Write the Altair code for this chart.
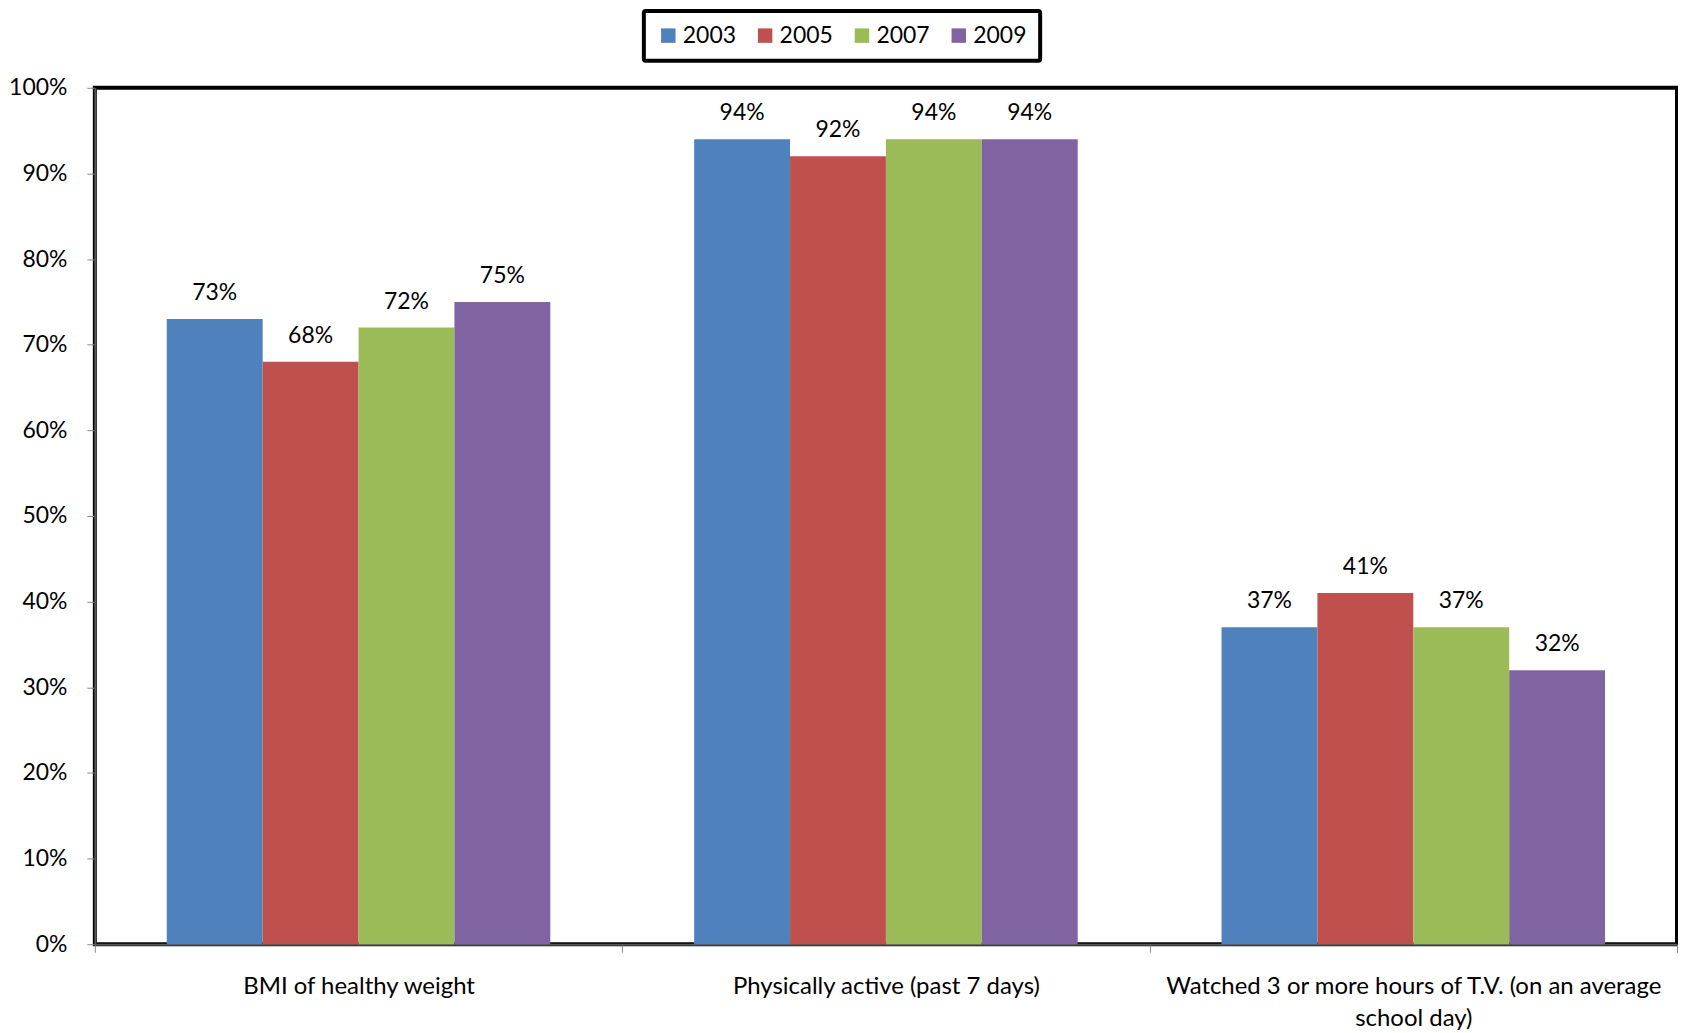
import altair as alt
import pandas as pd

categories = [
    "BMI of healthy weight",
    "Physically active (past 7 days)",
    "Watched 3 or more hours of T.V. (on an average school day)",
]
years = ["2003", "2005", "2007", "2009"]
values_2003 = [0.73, 0.94, 0.37]
values_2005 = [0.68, 0.92, 0.41]
values_2007 = [0.72, 0.94, 0.37]
values_2009 = [0.75, 0.94, 0.32]
colors = ["#4F81BD", "#C0504D", "#9BBB59", "#8064A2"]

series = [values_2003, values_2005, values_2007, values_2009]
rows = []
for y, vals in zip(years, series):
    for c, v in zip(categories, vals):
        rows.append({"category": c, "year": y, "value": v})
df = pd.DataFrame(rows)

FONT = "Lato"

label_expr = (
    "datum.value == 'Watched 3 or more hours of T.V. (on an average school day)' ? "
    "['Watched 3 or more hours of T.V. (on an average', 'school day)'] : datum.value"
)

base = alt.Chart(df).encode(
    x=alt.X(
        "category:N",
        sort=categories,
        scale=alt.Scale(paddingInner=0, paddingOuter=0),
        axis=alt.Axis(
            title=None,
            labelAngle=0,
            tickBand="extent",
            labelExpr=label_expr,
            labelFontSize=24,
            labelFont=FONT,
            labelColor="black",
            labelLimit=1000,
            labelLineHeight=32,
            labelPadding=22,
            tickSize=8,
            tickColor="#888888",
            domainColor="#555555",
            domainWidth=2,
        ),
    ),
    xOffset=alt.XOffset(
        "year:N", sort=years, scale=alt.Scale(paddingInner=0, paddingOuter=0.75)
    ),
    y=alt.Y(
        "value:Q",
        scale=alt.Scale(domain=[0, 1]),
        axis=alt.Axis(
            title=None,
            format=".0%",
            values=[i / 10 for i in range(11)],
            grid=False,
            labelFontSize=23,
            labelFont=FONT,
            labelColor="black",
            labelPadding=20,
            tickSize=8,
            tickColor="#888888",
            domainColor="#555555",
            domainWidth=2,
        ),
    ),
)

bars = base.mark_bar().encode(
    color=alt.Color(
        "year:N",
        sort=years,
        scale=alt.Scale(domain=years, range=colors),
        legend=alt.Legend(
            title=None,
            orient="none",
            legendX=550,
            legendY=-77,
            direction="horizontal",
            columns=4,
            symbolType="square",
            symbolSize=210,
            symbolStrokeWidth=0,
            labelFontSize=23,
            labelFont=FONT,
            labelColor="black",
            labelOffset=3,
            columnPadding=17,
            padding=13,
            strokeColor="black",
            cornerRadius=2,
        ),
    )
)

text = base.mark_text(baseline="bottom", dy=-14, fontSize=23, font=FONT, color="black").encode(
    text=alt.Text("value:Q", format=".0%")
)

chart = (
    (bars + text)
    .properties(width=1585, height=858, padding=0)
    .configure_view(stroke="black", strokeWidth=4)
    .configure_legend(strokeWidth=4)
)

chart.save("out.html", embed_options={"renderer": "svg", "actions": False})
